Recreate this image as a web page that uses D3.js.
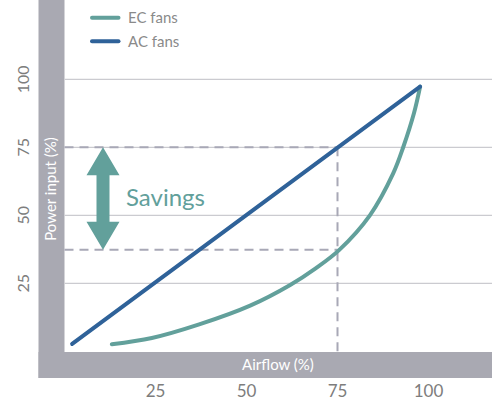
<!DOCTYPE html>
<html><head><meta charset="utf-8">
<script src="https://cdn.jsdelivr.net/npm/d3@7"></script>
<style>html,body{margin:0;padding:0;background:#fff;}svg{display:block;}</style>
</head><body><svg id="c" width="498" height="401"></svg>
<script>
const xTicks = [25, 50, 75, 100];
const yTicks = [25, 50, 75, 100];
const acFans = [[2.1, 2.7], [97.7, 97.3]];
const ecFans = [[13, 2.6], [24, 4.9], [37, 9.9], [51, 16.8], [62, 24.4], [69, 30.5], [75.5, 37.3], [83.9, 50], [90.3, 65.4], [93.1, 75.2], [96, 87.5], [97.7, 97.3]];
const seriesNames = ["EC fans", "AC fans"];
const refAirflow = 75, acAt75 = 75, ecAt75 = 37.3;

const svg = d3.select("#c");
const font = "Lato, 'Open Sans', sans-serif";
const x = d3.scaleLinear().domain([0, 100]).range([64.5, 428.5]);
const y = d3.scaleLinear().domain([0, 100]).range([351.3, 79.3]);
const barCol = "#a9a9b2", ecCol = "#62a09b", acCol = "#2f6299", dashCol = "#a8a8b6";

// axis bars
svg.append("rect").attr("x", 38.5).attr("y", 0).attr("width", 26).attr("height", 378).attr("fill", barCol);
svg.append("rect").attr("x", 38.5).attr("y", 352).attr("width", 453.5).attr("height", 26).attr("fill", barCol);

// gridlines
svg.append("g").selectAll("line").data(yTicks).join("line")
  .attr("x1", 64.5).attr("x2", 492).attr("y1", d => y(d)).attr("y2", d => y(d))
  .attr("stroke", "#cbcbd0").attr("stroke-width", 1.2);

// y tick labels
svg.append("g").selectAll("text").data(yTicks).join("text")
  .attr("transform", d => `translate(29,${y(d)}) rotate(-90)`)
  .attr("text-anchor", "middle").attr("font-family", font).attr("font-size", 16)
  .attr("fill", "#7d7d7d").text(d => d);
// x tick labels
svg.append("g").selectAll("text").data(xTicks).join("text")
  .attr("x", d => x(d)).attr("y", 397).attr("text-anchor", "middle")
  .attr("font-family", font).attr("font-size", 17).attr("fill", "#7d7d7d").text(d => d);

// axis titles
svg.append("text").attr("x", 278).attr("y", 370).attr("text-anchor", "middle")
  .attr("font-family", font).attr("font-size", 15).attr("fill", "#fff").text("Airflow (%)");
svg.append("text").attr("transform", "translate(56,189) rotate(-90)").attr("text-anchor", "middle")
  .attr("font-family", font).attr("font-size", 15).attr("fill", "#fff").text("Power input (%)");

// dashed reference lines
const dash = svg.append("g").attr("stroke", dashCol).attr("stroke-width", 2).attr("stroke-dasharray", "9,6").attr("fill", "none");
dash.append("line").attr("x1", x(0)).attr("x2", x(refAirflow)).attr("y1", y(acAt75)).attr("y2", y(acAt75));
dash.append("line").attr("x1", x(0)).attr("x2", x(refAirflow)).attr("y1", y(ecAt75)).attr("y2", y(ecAt75));
dash.append("line").attr("x1", x(refAirflow)).attr("x2", x(refAirflow)).attr("y1", y(acAt75)).attr("y2", 352);

// series
svg.append("path").datum(ecFans).attr("d", d3.line().x(d => x(d[0])).y(d => y(d[1])).curve(d3.curveCatmullRom.alpha(0.5)))
  .attr("fill", "none").attr("stroke", ecCol).attr("stroke-width", 4).attr("stroke-linecap", "round").attr("stroke-linejoin", "round");
svg.append("path").datum(acFans).attr("d", d3.line().x(d => x(d[0])).y(d => y(d[1])))
  .attr("fill", "none").attr("stroke", acCol).attr("stroke-width", 4).attr("stroke-linecap", "round");

// savings arrow
const ax = 103, aTop = y(acAt75), aBot = y(ecAt75), hw = 16.5, sw = 6.5, hh = 28;
const arrowPts = [[ax, aTop], [ax + hw, aTop + hh], [ax + sw, aTop + hh], [ax + sw, aBot - hh], [ax + hw, aBot - hh],
  [ax, aBot], [ax - hw, aBot - hh], [ax - sw, aBot - hh], [ax - sw, aTop + hh], [ax - hw, aTop + hh]];
svg.append("polygon").attr("points", arrowPts.map(p => p.join(",")).join(" ")).attr("fill", ecCol);
svg.append("text").attr("x", 126).attr("y", 206).attr("font-family", font).attr("font-size", 24)
  .attr("fill", ecCol).text("Savings");

// legend
const lg = svg.append("g").selectAll("g").data(seriesNames).join("g")
  .attr("transform", (d, i) => `translate(0,${17.7 + i * 23.5})`);
lg.append("line").attr("x1", 92).attr("x2", 118.5).attr("stroke", (d, i) => i ? acCol : ecCol)
  .attr("stroke-width", 4).attr("stroke-linecap", "round");
lg.append("text").attr("x", 128).attr("y", 5.5).attr("font-family", font).attr("font-size", 15)
  .attr("fill", "#8a8a8a").text(d => d);
</script></body></html>
